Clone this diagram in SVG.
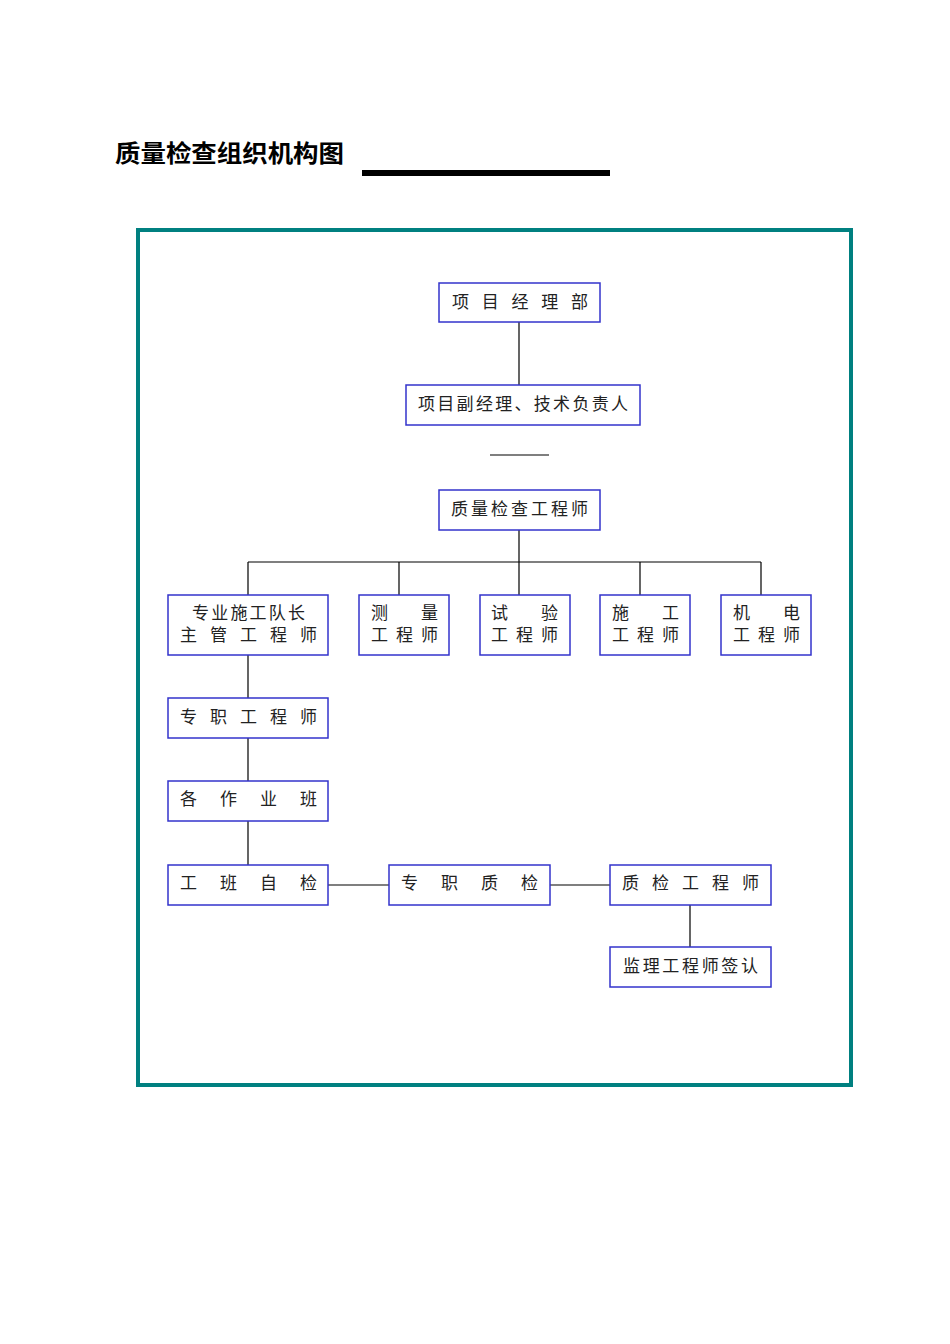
<svg xmlns="http://www.w3.org/2000/svg" width="950" height="1344" viewBox="0 0 950 1344">
<style>
.b{fill:#fff;stroke:#3333cc;stroke-width:1.5}
.t{font-family:"Noto Sans CJK SC","Noto Sans CJK JP",sans-serif;font-size:17px;fill:#222}
.c{stroke:#000;stroke-width:1.2;fill:none}
</style>
<rect width="950" height="1344" fill="#fff"/>
<text x="115" y="162" font-family="Noto Sans CJK SC,sans-serif" font-size="24" font-weight="bold" textLength="229" lengthAdjust="spacingAndGlyphs">质量检查组织机构图</text>
<rect x="362" y="170" width="248" height="6" fill="#000"/>
<rect x="138" y="230" width="713" height="855" fill="none" stroke="#008080" stroke-width="4"/>
<g id="connectors" class="c">
<path d="M519 322V385M490 455H549M519 530V562M248 562H761M248 562V595M399 562V595M519 562V595M640 562V595M761 562V595M248 655V698M248 738V781M248 821V865M328 885H389M550 885H610M690 905V947"/>
</g>
<g id="n1"><rect class="b" x="439" y="283" width="161" height="39"/><text class="t" x="452" y="308" textLength="136" lengthAdjust="spacing">项目经理部</text></g>
<g id="n2"><rect class="b" x="406" y="385" width="234" height="40"/><text class="t" x="418" y="410" textLength="210" lengthAdjust="spacing">项目副经理、技术负责人</text></g>
<g id="n3"><rect class="b" x="439" y="490" width="161" height="40"/><text class="t" x="451" y="515" textLength="137" lengthAdjust="spacing">质量检查工程师</text></g>
<g id="nA"><rect class="b" x="168" y="595" width="160" height="60"/><text class="t" x="192" y="619" textLength="113" lengthAdjust="spacing">专业施工队长</text><text class="t" x="180" y="641" textLength="137" lengthAdjust="spacing">主管工程师</text></g>
<g id="nB"><rect class="b" x="359" y="595" width="90" height="60"/><text class="t" x="371" y="619" textLength="67" lengthAdjust="spacing">测量</text><text class="t" x="371" y="641" textLength="67" lengthAdjust="spacing">工程师</text></g>
<g id="nC"><rect class="b" x="480" y="595" width="90" height="60"/><text class="t" x="491" y="619" textLength="67" lengthAdjust="spacing">试验</text><text class="t" x="491" y="641" textLength="67" lengthAdjust="spacing">工程师</text></g>
<g id="nD"><rect class="b" x="600" y="595" width="90" height="60"/><text class="t" x="612" y="619" textLength="67" lengthAdjust="spacing">施工</text><text class="t" x="612" y="641" textLength="67" lengthAdjust="spacing">工程师</text></g>
<g id="nE"><rect class="b" x="721" y="595" width="90" height="60"/><text class="t" x="733" y="619" textLength="67" lengthAdjust="spacing">机电</text><text class="t" x="733" y="641" textLength="67" lengthAdjust="spacing">工程师</text></g>
<g id="n4"><rect class="b" x="168" y="698" width="160" height="40"/><text class="t" x="180" y="723" textLength="137" lengthAdjust="spacing">专职工程师</text></g>
<g id="n5"><rect class="b" x="168" y="781" width="160" height="40"/><text class="t" x="180" y="805" textLength="137" lengthAdjust="spacing">各作业班</text></g>
<g id="n6"><rect class="b" x="168" y="865" width="160" height="40"/><text class="t" x="180" y="889" textLength="137" lengthAdjust="spacing">工班自检</text></g>
<g id="n7"><rect class="b" x="389" y="865" width="161" height="40"/><text class="t" x="401" y="889" textLength="137" lengthAdjust="spacing">专职质检</text></g>
<g id="n8"><rect class="b" x="610" y="865" width="161" height="40"/><text class="t" x="622" y="889" textLength="137" lengthAdjust="spacing">质检工程师</text></g>
<g id="n9"><rect class="b" x="610" y="947" width="161" height="40"/><text class="t" x="623" y="972" textLength="135" lengthAdjust="spacing">监理工程师签认</text></g>
</svg>
